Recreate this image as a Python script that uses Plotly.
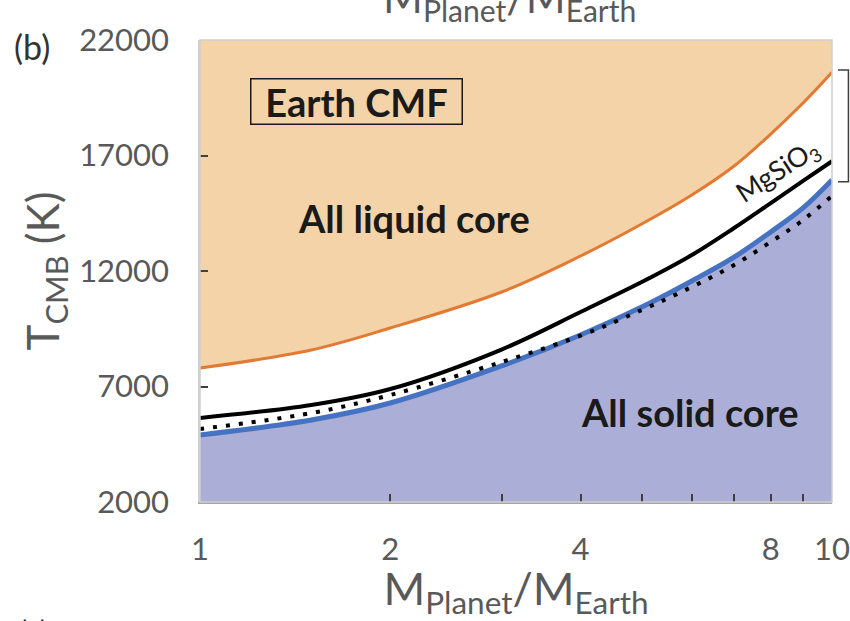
import plotly.graph_objects as go

# ---- data ----
mass = [1, 1.5, 2, 3, 4, 5, 6, 7, 8, 9, 10]
t_liquid = [7800, 8580, 9530, 11090, 12650, 14035, 15290, 16545, 17930, 19270, 20600]
t_mgsio3 = [5640, 6200, 6890, 8600, 10225, 11520, 12690, 13860, 14940, 15900, 16750]
t_solid = [4900, 5550, 6285, 7890, 9230, 10440, 11570, 12600, 13690, 14730, 15940]
t_dotted = [5160, 5850, 6630, 8060, 9200, 10310, 11310, 12260, 13260, 14210, 15250]

x_tickvals = [1, 2, 3, 4, 5, 6, 7, 8, 9, 10]
x_ticktext = ["1", "2", "", "4", "", "", "", "8", "", "10"]
y_tickvals = [2000, 7000, 12000, 17000, 22000]
y_ticktext = ["2000", "7000", "12000", "17000", "22000"]

PEACH = "#F4D3A9"
LAVENDER = "#ABAFD7"
ORANGE = "#E27A33"
BLUE = "#4573C2"
GRAY = "#595959"
FONT = "Lato"

fig = go.Figure()

# liquid boundary: white fill below it (background is peach)
fig.add_trace(go.Scatter(x=mass, y=t_liquid, mode="lines",
                         line=dict(color=ORANGE, width=3, shape="spline"),
                         fill="tozeroy", fillcolor="white", showlegend=False))
# solid boundary: lavender fill below it
fig.add_trace(go.Scatter(x=mass, y=t_solid, mode="lines",
                         line=dict(color=BLUE, width=5, shape="spline"),
                         fill="tozeroy", fillcolor=LAVENDER, showlegend=False))
# dotted curve
fig.add_trace(go.Scatter(x=mass, y=t_dotted, mode="lines",
                         line=dict(color="black", width=4, dash="4px,9px", shape="spline"),
                         showlegend=False))
# MgSiO3 curve
fig.add_trace(go.Scatter(x=mass, y=t_mgsio3, mode="lines",
                         line=dict(color="black", width=4, shape="spline"),
                         showlegend=False))

fig.update_layout(
    width=850, height=621,
    margin=dict(l=200, r=18, t=40, b=119, autoexpand=False),
    paper_bgcolor="white",
    plot_bgcolor=PEACH,
    font=dict(family=FONT, color=GRAY),
    showlegend=False,
)

fig.update_xaxes(
    type="log", range=[0, 1], automargin=False,
    tickvals=x_tickvals, ticktext=x_ticktext,
    ticks="inside", ticklen=8, tickwidth=1.5, tickcolor="#404040",
    tickfont=dict(size=31, color=GRAY, family=FONT),
    ticklabelstandoff=19,
    showline=True, linecolor="#A6A6A6", linewidth=1.5,
    showgrid=False, zeroline=False,
    title=dict(text="M<sub>Planet</sub>/M<sub>Earth</sub>",
               font=dict(size=45, color=GRAY, family=FONT), standoff=17),
)
fig.update_yaxes(
    range=[2000, 22000], automargin=False,
    tickvals=y_tickvals, ticktext=y_ticktext,
    ticks="inside", ticklen=8, tickwidth=1.5, tickcolor="#404040",
    tickfont=dict(size=31, color=GRAY, family=FONT),
    ticklabelstandoff=23,
    showline=True, linecolor="#D0D0D0", linewidth=1.5,
    showgrid=False, zeroline=False,
    title=dict(text="T<sub>CMB</sub> (K)",
               font=dict(size=44, color=GRAY, family=FONT), standoff=6),
)

# plot border (light)
fig.add_shape(type="rect", xref="paper", yref="paper", x0=0, x1=1, y0=0, y1=1,
              line=dict(color="#D0D0D0", width=1.5), layer="above")
# bracket on the right (cut off at the edge)
fig.add_shape(type="path", xref="paper", yref="paper",
              path="M 1.0095 0.935 L 1.026 0.935 L 1.026 0.693 L 1.0095 0.693",
              line=dict(color="#404040", width=1.5))

DARK = "#1a1a1a"
ann = []
ann.append(dict(x=0.247, y=19320, xref="x", yref="y", text="<b>Earth CMF</b>",
                showarrow=False, font=dict(size=38, color=DARK, family=FONT),
                width=206, height=40, align="center",
                bordercolor=DARK, borderwidth=1.5, borderpad=2, bgcolor="rgba(0,0,0,0)"))
ann.append(dict(x=0.3386, y=14300, xref="x", yref="y", text="<b>All liquid core</b>",
                showarrow=False, font=dict(size=38, color=DARK, family=FONT)))
ann.append(dict(x=0.7753, y=5900, xref="x", yref="y", text="<b>All solid core</b>",
                showarrow=False, font=dict(size=38, color=DARK, family=FONT)))
ann.append(dict(x=0.914, y=16300, xref="x", yref="y", text="MgSiO<sub>3</sub>",
                showarrow=False, textangle=-33, font=dict(size=27, color=DARK, family=FONT)))
ann.append(dict(x=-0.2975, y=1.035, xref="paper", yref="paper", xanchor="left", text="(b)",
                showarrow=False, font=dict(size=34, color="#333333", family=FONT)))
# cut-off title of the panel above
ann.append(dict(x=0.49, y=1.0, xref="paper", yref="paper", yanchor="bottom", yshift=10,
                text="M<sub>Planet</sub>/M<sub>Earth</sub>",
                showarrow=False, font=dict(size=43, color=GRAY, family=FONT)))
# cut-off label of the panel below
ann.append(dict(x=-0.29, y=-0.235, xref="paper", yref="paper", xanchor="left", yanchor="top",
                text="(c)", showarrow=False, font=dict(size=30, color="#333333", family=FONT)))
fig.update_layout(annotations=ann)

fig.write_html("out.html")
